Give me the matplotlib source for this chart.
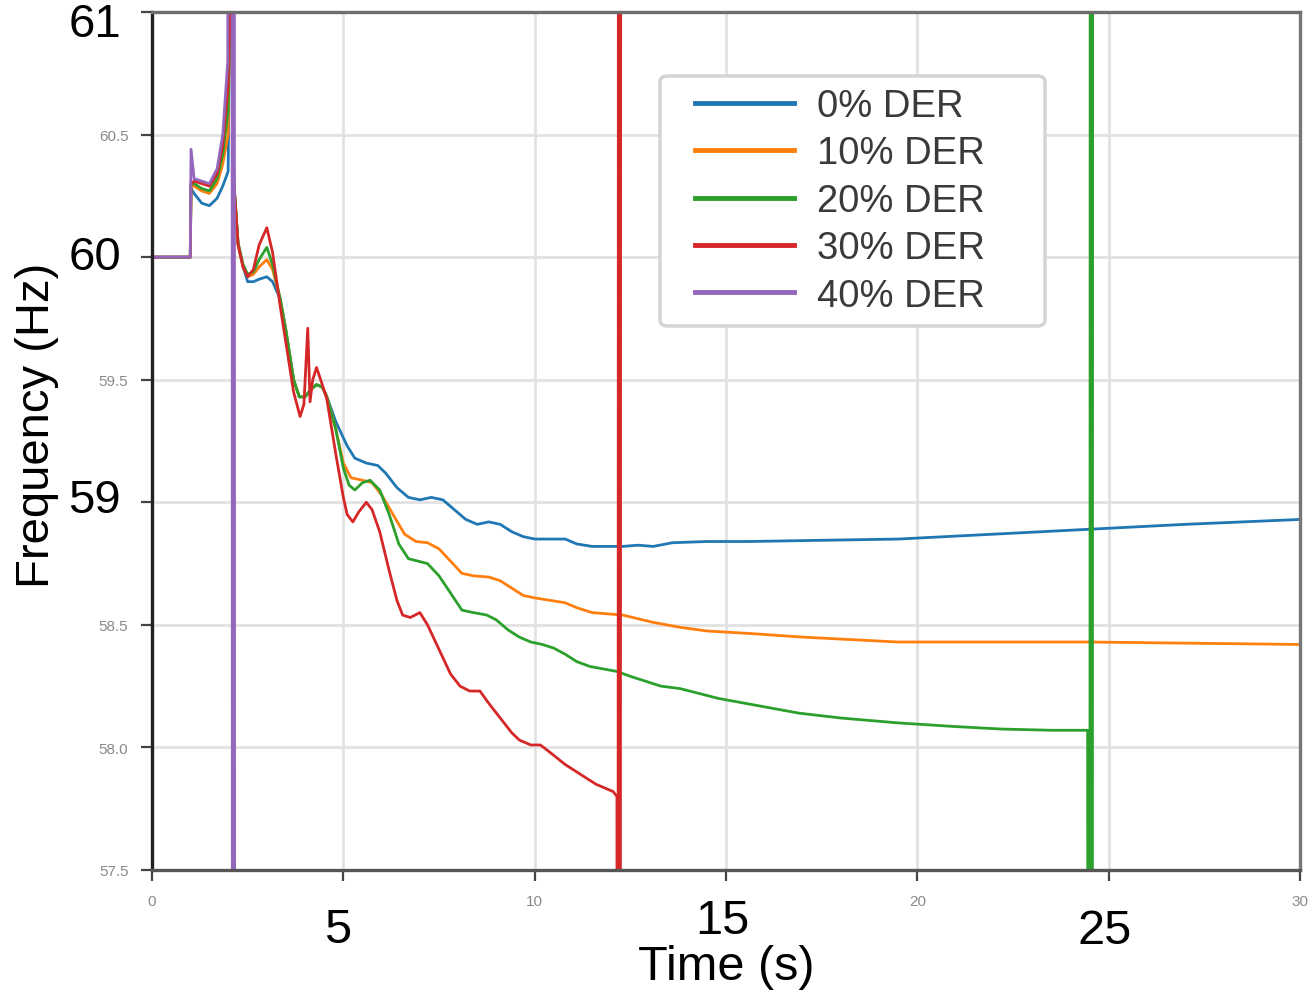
import matplotlib
matplotlib.use("Agg")
import matplotlib.pyplot as plt
from matplotlib import font_manager
from matplotlib.patches import FancyBboxPatch

# frequency response for each DER penetration level (time in s, frequency in Hz)
t_der0 = [0, 1.0, 1.02, 1.1, 1.3, 1.5, 1.7, 1.85, 1.99, 2.05, 2.14, 2.25, 2.38, 2.5, 2.65, 2.8,
          3.0, 3.15, 3.35, 3.5, 3.7, 3.85, 4.0, 4.15, 4.3, 4.45, 4.57, 4.8, 5.1, 5.3, 5.6,
          5.9, 6.1, 6.4, 6.7, 7.0, 7.3, 7.6, 7.9, 8.2, 8.5, 8.8, 9.1, 9.4, 9.7, 10.0,
          10.4, 10.8, 11.1, 11.5, 11.9, 12.3, 12.7, 13.1, 13.6, 14.5, 15.6, 17.5, 19.5,
          22.0, 24.5, 27.0, 30.0]
f_der0 = [60, 60, 60.28, 60.26, 60.22, 60.21, 60.24, 60.29, 60.35, 61.3, 60.3, 60.05, 59.96, 59.9, 59.9, 59.91,
          59.92, 59.9, 59.83, 59.7, 59.5, 59.43, 59.43, 59.46, 59.48, 59.47, 59.43, 59.33, 59.23, 59.18, 59.16,
          59.15, 59.12, 59.06, 59.02, 59.01, 59.02, 59.01, 58.97, 58.93, 58.91, 58.92, 58.91, 58.88, 58.86, 58.85,
          58.85, 58.85, 58.83, 58.82, 58.82, 58.82, 58.825, 58.82, 58.835, 58.84, 58.84, 58.845, 58.85,
          58.87, 58.89, 58.91, 58.93]

t_der10 = [0, 1.0, 1.02, 1.1, 1.3, 1.5, 1.7, 1.85, 1.99, 2.05, 2.14, 2.25, 2.38, 2.5, 2.65, 2.8,
           3.0, 3.15, 3.35, 3.5, 3.7, 3.85, 4.0, 4.15, 4.3, 4.45, 4.57, 4.8, 5.0, 5.2, 5.5,
           5.75, 6.0, 6.3, 6.6, 6.9, 7.2, 7.5, 7.8, 8.1, 8.4, 8.8, 9.1, 9.4, 9.7, 10.0,
           10.4, 10.8, 11.1, 11.5, 11.9, 12.3, 12.7, 13.1, 13.8, 14.5, 15.6, 17.0, 19.5,
           24.5, 30.0]
f_der10 = [60, 60, 60.3, 60.29, 60.27, 60.26, 60.3, 60.38, 60.5, 61.3, 60.3, 60.05, 59.96, 59.92, 59.93, 59.96,
           59.99, 59.95, 59.83, 59.7, 59.5, 59.43, 59.43, 59.46, 59.48, 59.47, 59.43, 59.3, 59.16, 59.1, 59.09,
           59.08, 59.03, 58.95, 58.87, 58.84, 58.835, 58.81, 58.76, 58.71, 58.7, 58.695, 58.68, 58.65, 58.62, 58.61,
           58.6, 58.59, 58.57, 58.55, 58.545, 58.54, 58.525, 58.51, 58.49, 58.475, 58.465, 58.45, 58.43,
           58.43, 58.42]

t_der20 = [0, 1.0, 1.02, 1.1, 1.3, 1.5, 1.7, 1.85, 1.99, 2.05, 2.14, 2.25, 2.38, 2.5, 2.65, 2.8,
           3.0, 3.15, 3.35, 3.5, 3.7, 3.85, 4.0, 4.15, 4.3, 4.45, 4.57, 4.8, 5.0, 5.15, 5.3,
           5.5, 5.7, 5.95, 6.2, 6.45, 6.7, 6.95, 7.2, 7.5, 7.8, 8.1, 8.4, 8.75, 9.0, 9.3,
           9.6, 9.9, 10.2, 10.5, 10.8, 11.1, 11.45, 11.8, 12.15, 12.5, 12.9, 13.3, 13.8,
           14.3, 14.8, 15.5, 16.2, 16.9, 18.0, 19.5, 21.0, 22.2, 23.5, 24.45,
           24.5, 24.53, 24.56, 24.6]
f_der20 = [60, 60, 60.3, 60.3, 60.28, 60.27, 60.32, 60.42, 60.6, 61.3, 60.3, 60.06, 59.97, 59.93, 59.94, 59.99,
           60.04, 59.97, 59.83, 59.7, 59.5, 59.43, 59.43, 59.46, 59.48, 59.47, 59.43, 59.3, 59.14, 59.07, 59.05,
           59.08, 59.09, 59.05, 58.95, 58.83, 58.77, 58.76, 58.75, 58.7, 58.63, 58.56, 58.55, 58.54, 58.52, 58.48,
           58.45, 58.43, 58.42, 58.405, 58.38, 58.35, 58.33, 58.32, 58.31, 58.29, 58.27, 58.25, 58.24,
           58.22, 58.2, 58.18, 58.16, 58.14, 58.12, 58.1, 58.085, 58.075, 58.07, 58.07,
           50, 70, 50, 70]

t_der30 = [0, 1.0, 1.02, 1.1, 1.3, 1.5, 1.7, 1.85, 1.99, 2.05, 2.14, 2.25, 2.38, 2.5, 2.65, 2.8,
           3.0, 3.15, 3.35, 3.5, 3.7, 3.87, 3.97, 4.07, 4.13, 4.2, 4.3, 4.45, 4.57, 4.8, 5.0,
           5.1, 5.25, 5.4, 5.6, 5.75, 5.95, 6.2, 6.4, 6.55, 6.75, 7.0, 7.2, 7.5, 7.8, 8.05,
           8.3, 8.57, 8.8, 9.1, 9.4, 9.6, 9.9, 10.15, 10.4, 10.8, 11.2, 11.6, 12.05, 12.15,
           12.17, 12.2, 12.23, 12.26]
f_der30 = [60, 60, 60.3, 60.31, 60.3, 60.29, 60.34, 60.46, 60.7, 61.3, 60.3, 60.05, 59.96, 59.92, 59.95, 60.05,
           60.12, 60.02, 59.8, 59.65, 59.45, 59.35, 59.4, 59.71, 59.41, 59.5, 59.55, 59.48, 59.42, 59.2, 59.02,
           58.95, 58.92, 58.96, 59.0, 58.97, 58.88, 58.72, 58.6, 58.54, 58.53, 58.55, 58.5, 58.4, 58.3, 58.25,
           58.23, 58.23, 58.18, 58.12, 58.06, 58.03, 58.01, 58.01, 57.98, 57.93, 57.89, 57.85, 57.82, 57.8,
           50, 70, 50, 70]

t_der40 = [0, 1.0, 1.02, 1.1, 1.3, 1.5, 1.7, 1.85, 1.98, 2.08, 2.11, 2.14, 2.17]
f_der40 = [60, 60, 60.44, 60.32, 60.31, 60.3, 60.36, 60.5, 60.8, 70, 50, 70, 50]

series = [
    ("0% DER", t_der0, f_der0, "#1f77b4"),
    ("10% DER", t_der10, f_der10, "#ff7f0e"),
    ("20% DER", t_der20, f_der20, "#2ca02c"),
    ("30% DER", t_der30, f_der30, "#d62728"),
    ("40% DER", t_der40, f_der40, "#9467bd"),
]

x_ticks = [0, 5, 10, 15, 20, 25, 30]
x_small = ["0", "", "10", "", "20", "", "30"]
y_ticks = [57.5, 58.0, 58.5, 59.0, 59.5, 60.0, 60.5, 61.0]
y_small = ["57.5", "58.0", "58.5", "", "59.5", "", "60.5", ""]

installed = {f.name for f in font_manager.fontManager.ttflist}
narrow = "Liberation Sans Narrow" if "Liberation Sans Narrow" in installed else "Liberation Sans"
narrow_size = 38 if narrow == "Liberation Sans Narrow" else 35
plt.rcParams["font.family"] = ["Liberation Sans", "DejaVu Sans"]

W, H = 1314, 995
fig = plt.figure(figsize=(W / 100, H / 100), dpi=100)
ax = fig.add_axes([152 / W, 1 - 871 / H, 1148 / W, 858 / H])

for label, t, f, color in series:
    ax.plot(t, f, color=color, lw=2.0, label=label)

ax.set_xlim(0, 30)
ax.set_ylim(57.5, 61)
ax.set_xticks(x_ticks)
ax.set_xticklabels(x_small, fontsize=11, color="#8a8a8a")
ax.set_yticks(y_ticks)
ax.set_yticklabels(y_small, fontsize=11, color="#8a8a8a")
ax.tick_params(axis="both", direction="out", length=8, width=1.6, color="#444444", pad=9)
ax.grid(True, color="#e2e2e2", lw=2.0)
ax.set_axisbelow(True)

ax.spines["left"].set_color("#222222")
ax.spines["bottom"].set_color("#555555")
ax.spines["top"].set_color("#6e6e6e")
ax.spines["right"].set_color("#777777")
for s in ax.spines.values():
    s.set_linewidth(2.4)

# large tick values written over the original labels
ytr = ax.get_yaxis_transform()
for val, ypos in [("61", 60.95), ("60", 60.0), ("59", 59.01)]:
    ax.text(-0.027, ypos, val, transform=ytr, ha="right", va="center", fontsize=34, color="black")

xtr = ax.get_xaxis_transform()
ax.text(4.86, -0.069, "5", transform=xtr, ha="center", va="center", fontsize=35, color="black",
        clip_on=False)
ax.text(14.9, -0.059, "15", transform=xtr, ha="center", va="center", fontsize=narrow_size,
        family=[narrow, "DejaVu Sans"], color="black", clip_on=False)
ax.text(24.9, -0.071, "25", transform=xtr, ha="center", va="center", fontsize=narrow_size,
        family=[narrow, "DejaVu Sans"], color="black", clip_on=False)
ax.text(15.0, -0.113, "Time (s)", transform=xtr, ha="center", va="center", fontsize=narrow_size,
        family=[narrow, "DejaVu Sans"], color="black", clip_on=False)
fig.text(37 / W, 1 - 425 / H, "Frequency (Hz)", rotation=90, ha="center", va="center",
         fontsize=34, color="black")

# legend box drawn separately so the padding around the entries can be wider
box = FancyBboxPatch((660 / W, 1 - 327 / H), 385 / W, 250 / H,
                     boxstyle="round,pad=0,rounding_size=0.006", transform=fig.transFigure,
                     facecolor="white", edgecolor="#d4d4d4", linewidth=2.5, zorder=4,
                     clip_on=False)
ax.add_artist(box)

leg = ax.legend(loc="upper left", bbox_to_anchor=((695 - 152) / 1148, (871 - 89) / 858),
                borderaxespad=0, borderpad=0, fontsize=27.5, handlelength=2.6, handletextpad=0.6,
                labelspacing=0.3, frameon=False)
leg.set_zorder(5)
for line in leg.get_lines():
    line.set_linewidth(3.5)
for txt in leg.get_texts():
    txt.set_color("#3a3a3a")

fig.savefig("out.png", dpi=100, facecolor="white")
